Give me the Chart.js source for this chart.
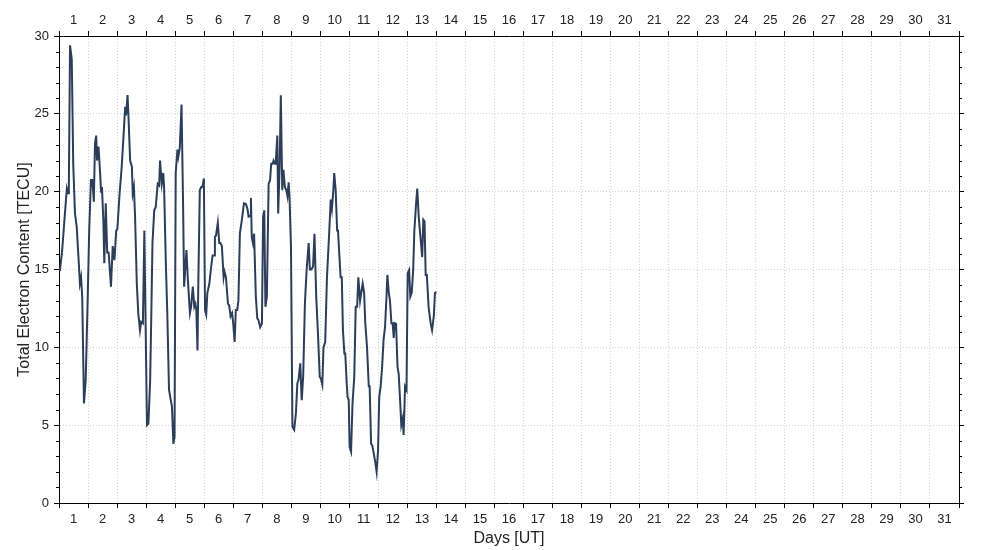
<!DOCTYPE html>
<html>
<head>
<meta charset="utf-8">
<script src="https://cdn.jsdelivr.net/npm/chart.js@4"></script>
<style>
  body { margin: 0; background: #fff; }
  canvas { display: block; }
</style>
</head>
<body>
<canvas id="tecChart" width="1000" height="550"></canvas>
<script>
// time in days since start of day 1 (UT), and total electron content
const dayTime = [
  0.03, 0.11, 0.18, 0.27, 0.31, 0.34, 0.38, 0.44, 0.49, 0.55, 0.61, 0.67, 0.72, 0.76, 0.80, 0.86, 0.92, 0.99,
  1.04, 1.10, 1.15, 1.20, 1.24, 1.28, 1.31, 1.36, 1.41, 1.45, 1.48, 1.53, 1.56, 1.61, 1.66, 1.71, 1.79, 1.85, 1.91, 1.97,
  2.01, 2.08, 2.16, 2.22, 2.28, 2.31, 2.36, 2.39, 2.45, 2.51, 2.54, 2.58, 2.62, 2.68, 2.73, 2.79, 2.83, 2.89, 2.94,
  3.03, 3.08, 3.14, 3.17, 3.22, 3.28, 3.33, 3.40, 3.45, 3.48, 3.54, 3.59, 3.62, 3.68, 3.73, 3.79, 3.89, 3.94, 3.98,
  4.02, 4.08, 4.11, 4.16, 4.22, 4.27, 4.31, 4.39, 4.44, 4.51, 4.55, 4.61, 4.66, 4.70, 4.73, 4.77, 4.80, 4.85, 4.90, 4.94, 4.99,
  5.03, 5.07, 5.11, 5.18, 5.23, 5.29, 5.34, 5.37, 5.41, 5.47, 5.52, 5.56, 5.61, 5.67, 5.70, 5.75, 5.82, 5.86, 5.91, 5.96,
  6.00, 6.05, 6.09, 6.14, 6.18, 6.23, 6.30, 6.37, 6.44, 6.49, 6.53, 6.58, 6.61, 6.64, 6.68, 6.72, 6.78, 6.83, 6.87, 6.93, 6.99,
  7.03, 7.07, 7.11, 7.16, 7.22, 7.27, 7.31, 7.36, 7.39, 7.44, 7.47, 7.52, 7.55, 7.60, 7.64, 7.69, 7.73, 7.78, 7.83, 7.87, 7.91, 7.94, 7.99,
  8.04, 8.10, 8.16, 8.21, 8.25, 8.31, 8.36, 8.41, 8.47, 8.53, 8.60, 8.64, 8.69, 8.75, 8.80, 8.86, 8.92, 8.98,
  9.02, 9.07, 9.11, 9.17, 9.23, 9.30, 9.36, 9.40, 9.45, 9.48, 9.53, 9.58, 9.61, 9.66, 9.70, 9.74, 9.78, 9.83, 9.86, 9.91, 9.94, 9.98,
  10.01, 10.06, 10.11, 10.17, 10.22, 10.27, 10.31, 10.37, 10.41, 10.46, 10.51, 10.55, 10.61, 10.67, 10.70, 10.75, 10.79, 10.84, 10.90, 10.94, 10.99,
  11.03, 11.08, 11.13, 11.18, 11.23, 11.28, 11.31, 11.36, 11.40, 11.45, 11.49, 11.53, 11.56, 11.61, 11.66, 11.70, 11.76, 11.79, 11.84, 11.87, 11.92, 11.97,
  12.01, 12.06, 12.10, 12.15, 12.20, 12.24, 12.30, 12.34, 12.39, 12.45, 12.51, 12.55, 12.59, 12.63, 12.67, 12.73, 12.80, 12.85, 12.91, 12.95, 13.00
];
const tecValues = [
  14.9, 16.25, 18.0, 20.2, 19.9, 20.5, 29.4, 28.5, 21.8, 18.6, 17.75, 15.8, 14.1, 14.5, 13.25, 6.4, 7.9, 13.25,
  17.5, 20.75, 20.75, 19.35, 23.1, 23.6, 22.0, 22.9, 21.4, 20.0, 20.3, 18.0, 15.4, 19.25, 16.1, 16.1, 13.9, 16.5, 15.6, 17.5,
  17.6, 19.7, 21.6, 23.5, 25.45, 24.9, 26.2, 25.0, 22.0, 21.6, 19.9, 20.3, 18.4, 14.1, 12.2, 11.1, 11.65, 11.55, 17.5,
  5.0, 5.1, 7.9, 11.1, 16.7, 18.8, 19.0, 20.5, 20.4, 22.0, 20.5, 21.2, 20.3, 15.4, 12.2, 7.26, 6.2, 3.8, 4.26,
  21.2, 22.7, 22.25, 22.8, 25.6, 19.7, 13.9, 16.25, 14.3, 12.2, 12.6, 13.9, 12.6, 12.8, 12.4, 9.8, 14.3, 20.1, 20.3, 20.3, 20.85,
  12.4, 12.1, 13.5, 14.1, 15.0, 15.9, 15.9, 17.1, 17.2, 18.0, 16.7, 16.7, 16.5, 14.5, 14.86, 14.5, 12.8, 12.7, 12.0, 12.2,
  11.55, 10.35, 12.4, 12.4, 13.0, 17.3, 18.2, 19.25, 19.2, 18.9, 18.4, 18.45, 19.6, 17.1, 16.7, 17.3, 13.25, 11.86, 11.75, 11.3, 11.55,
  18.4, 18.8, 12.6, 13.25, 20.5, 20.75, 21.8, 21.8, 22.0, 21.8, 22.0, 23.6, 18.6, 21.6, 26.2, 20.1, 21.4, 20.3, 20.1, 19.7, 20.6, 19.7, 16.5,
  4.9, 4.7, 5.76, 7.7, 7.9, 8.97, 6.6, 8.1, 12.8, 15.0, 16.7, 15.0, 15.0, 15.2, 17.3, 13.25, 10.9, 8.1,
  8.0, 7.6, 10.0, 10.35, 14.5, 17.1, 19.5, 18.9, 20.1, 21.2, 20.1, 17.5, 17.5, 15.8, 14.5, 14.5, 11.1, 9.6, 9.6, 7.7, 6.8, 6.6,
  3.6, 3.3, 6.4, 8.1, 12.6, 12.6, 14.5, 13.0, 13.5, 14.1, 13.5, 11.55, 10.0, 7.5, 7.5, 3.8, 3.7, 3.2, 2.55, 2.0, 3.4,
  6.8, 7.5, 8.75, 10.5, 11.3, 13.25, 14.65, 13.5, 13.0, 11.55, 11.55, 10.6, 11.55, 11.5, 8.75, 8.3, 6.2, 5.0, 5.44, 4.37, 7.47, 7.26,
  14.76, 14.97, 13.25, 13.5, 15.0, 17.5, 19.25, 20.2, 18.4, 17.1, 15.8, 18.2, 18.1, 14.65, 14.65, 12.6, 11.55, 11.1, 12.0, 13.5, 13.55
];
const dayLabels = [
  "1", "2", "3", "4", "5", "6", "7", "8", "9", "10", "11", "12", "13", "14", "15", "16",
  "17", "18", "19", "20", "21", "22", "23", "24", "25", "26", "27", "28", "29", "30", "31"
];
const tecMin = 0;
const tecMax = 30;

const FONT = "'Liberation Sans', Arial, sans-serif";
const LINE_COLOR = "#2c3e5a";
const GRID_COLOR = "#d2d2d2";

const points = dayTime.map((t, i) => ({ x: t, y: tecValues[i] }));

// labels sit in the middle of each day, tick marks on the day boundaries
const dayTickLabel = (value) =>
  Number.isInteger(value) ? "" : dayLabels[Math.floor(value)];
const isMajorY = (ctx) => ctx.tick && ctx.tick.value % 5 === 0;

// small ticks on both y axes for every unit that has no label
const minorTicks = {
  id: "minorTicks",
  afterDraw(chart) {
    const c = chart.ctx;
    c.save();
    c.strokeStyle = "#000";
    c.lineWidth = 1;
    ["y", "y2"].forEach((id) => {
      const s = chart.scales[id];
      for (let v = tecMin; v <= tecMax; v++) {
        if (v % 5 === 0) continue;
        const py = Math.round(s.getPixelForValue(v)) + 0.5;
        c.beginPath();
        if (id === "y") {
          c.moveTo(s.right - 3, py);
          c.lineTo(s.right, py);
        } else {
          c.moveTo(s.left, py);
          c.lineTo(s.left + 3, py);
        }
        c.stroke();
      }
    });
    c.restore();
  },
};

Chart.defaults.font.family = FONT;
Chart.defaults.color = "#222";

const xCommon = {
  type: "linear",
  min: 0,
  max: dayLabels.length,
  ticks: {
    stepSize: 0.5,
    autoSkip: false,
    maxRotation: 0,
    font: { size: 13 },
    callback: dayTickLabel,
  },
  border: { display: true, color: "#000", width: 1, dash: [1, 2] },
};

new Chart(document.getElementById("tecChart"), {
  type: "line",
  data: {
    datasets: [
      {
        label: "TEC",
        data: points,
        borderColor: LINE_COLOR,
        borderWidth: 2,
        pointRadius: 0,
        tension: 0,
        fill: false,
      },
    ],
  },
  options: {
    responsive: false,
    animation: false,
    layout: { padding: 0 },
    plugins: { legend: { display: false }, tooltip: { enabled: false } },
    scales: {
      x: {
        ...xCommon,
        position: "bottom",
        ticks: { ...xCommon.ticks, padding: 4 },
        grid: {
          color: (ctx) => (Number.isInteger(ctx.tick.value) ? GRID_COLOR : "transparent"),
          tickColor: (ctx) => (Number.isInteger(ctx.tick.value) ? "#000" : "transparent"),
          tickLength: 5,
          lineWidth: 1,
        },
        title: {
          display: true,
          text: "Days [UT]",
          font: { size: 16 },
          color: "#222",
          padding: { top: 0, bottom: 2 },
        },
        afterFit: (s) => { s.height = 47; },
      },
      x2: {
        ...xCommon,
        position: "top",
        ticks: { ...xCommon.ticks, padding: 3 },
        grid: {
          drawOnChartArea: false,
          tickColor: (ctx) => (Number.isInteger(ctx.tick.value) ? "#000" : "transparent"),
          tickLength: 5,
        },
        afterFit: (s) => { s.height = 36; },
      },
      y: {
        type: "linear",
        position: "left",
        min: tecMin,
        max: tecMax,
        ticks: {
          stepSize: 1,
          autoSkip: false,
          padding: 5,
          font: { size: 13 },
          callback: (v) => (v % 5 === 0 ? String(v) : ""),
        },
        grid: {
          color: (ctx) => (isMajorY(ctx) ? GRID_COLOR : "transparent"),
          tickColor: (ctx) => (isMajorY(ctx) ? "#000" : "transparent"),
          tickLength: 5,
        },
        border: { display: true, color: "#000", width: 1, dash: [1, 2] },
        title: {
          display: true,
          text: "Total Electron Content [TECU]",
          font: { size: 16 },
          color: "#222",
          padding: { top: 15, bottom: 0 },
        },
        afterFit: (s) => { s.width = 59; },
      },
      y2: {
        type: "linear",
        position: "right",
        min: tecMin,
        max: tecMax,
        ticks: {
          stepSize: 1,
          autoSkip: false,
          callback: () => "",
        },
        grid: {
          drawOnChartArea: false,
          tickColor: (ctx) => (isMajorY(ctx) ? "#000" : "transparent"),
          tickLength: 5,
        },
        border: { display: true, color: "#000", width: 1 },
        afterFit: (s) => { s.width = 41; },
      },
    },
  },
  plugins: [minorTicks],
});
</script>
</body>
</html>
